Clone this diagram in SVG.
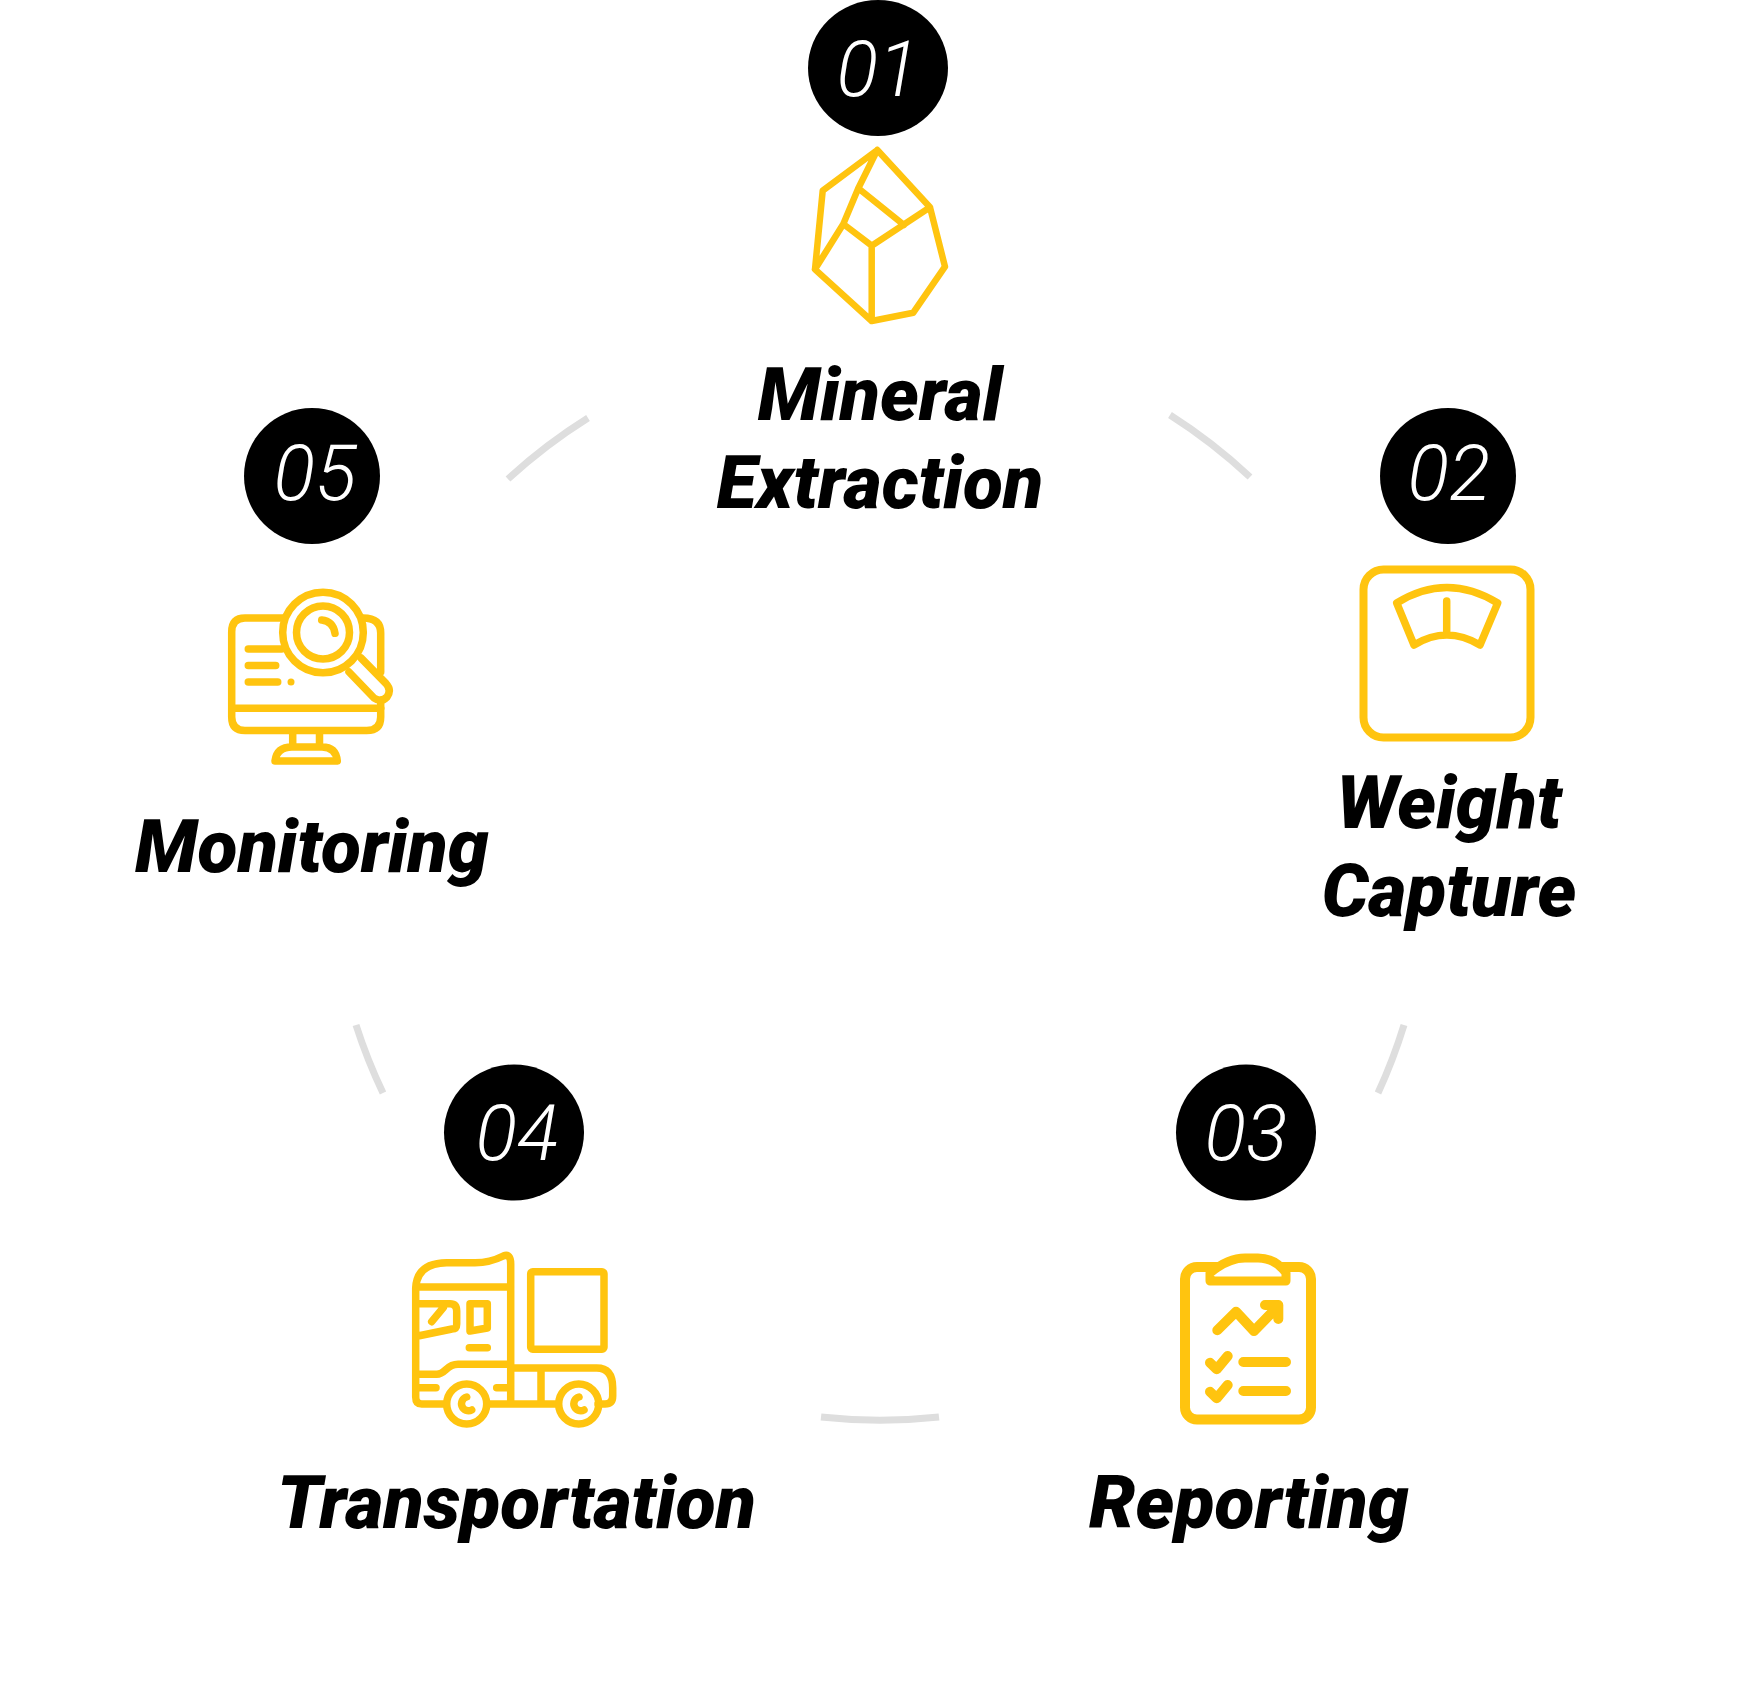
<svg xmlns="http://www.w3.org/2000/svg" width="1756" height="1684" viewBox="0 0 1756 1684">
<style>
.num{fill:#fff;font-family:Roboto,"Liberation Sans",sans-serif;font-style:italic;font-weight:300;font-size:77px;text-anchor:middle}
.lab{fill:#000;font-family:Roboto,"Liberation Sans",sans-serif;font-style:italic;font-weight:900;font-size:73.5px;text-anchor:middle}
.ic{fill:none;stroke:#ffc40f;stroke-linecap:round;stroke-linejoin:round;stroke-width:7.5}
.arc{fill:none;stroke:#dedede;stroke-width:7}
</style>
<rect width="1756" height="1684" fill="#fff"/>
<g id="connectors">
<path class="arc" d="M588 418A545 545 0 0 0 508 479"/>
<path class="arc" d="M1170 415A545 545 0 0 1 1250 477"/>
<path class="arc" d="M1404 1025A545 545 0 0 1 1378 1093"/>
<path class="arc" d="M356 1025A545 545 0 0 0 383 1093"/>
<path class="arc" d="M821 1417A545 545 0 0 0 939 1417"/>
</g>
<g id="node1">
<ellipse cx="878" cy="68" rx="70" ry="68"/>
<text class="num" x="878" y="96">01</text>
<path class="ic" style="stroke-width:6.5" d="M877.3 150L822.7 190.7L815 269.3L871.7 321L913.3 312.7L945 266.7L930 207.3ZM877.3 150L858.3 188.3L843.3 224L815 269.3M858.3 188.3L904 225M843.3 224L871.7 245.7L930 207.3M871.7 245.7V321"/>
<text class="lab" x="880" y="420">Mineral</text>
<text class="lab" x="880" y="508">Extraction</text>
</g>
<g id="node2">
<ellipse cx="1448" cy="476" rx="68" ry="68"/>
<text class="num" x="1449" y="500">02</text>
<rect class="ic" style="stroke-width:8" x="1363.5" y="569.5" width="167" height="168" rx="20"/>
<path class="ic" d="M1396.7 603Q1446.7 572 1497.7 603L1480 645Q1446.7 625 1414 645ZM1446.7 601V635"/>
<text class="lab" x="1449" y="828">Weight</text>
<text class="lab" x="1449" y="916">Capture</text>
</g>
<g id="node3">
<ellipse cx="1246" cy="1132.5" rx="70" ry="68"/>
<text class="num" x="1246" y="1160">03</text>
<rect class="ic" style="stroke-width:10" x="1185" y="1267" width="126" height="152.5" rx="12"/>
<path class="ic" style="stroke-width:9;fill:#fff" d="M1210 1281V1273Q1228 1258 1245 1258H1258Q1275 1258 1286 1273V1281Z"/>
<path class="ic" style="stroke-width:10" d="M1217.3 1330.3L1236 1311.7L1254 1331L1276.7 1307.7M1265 1305H1278.3V1319M1210 1362.7L1216.7 1369.3L1227.7 1356M1243.3 1362H1286M1210 1391.7L1216.7 1398.3L1227.7 1385M1243.3 1391H1286"/>
<text class="lab" x="1249" y="1528">Reporting</text>
</g>
<g id="node4">
<ellipse cx="514" cy="1132.5" rx="70" ry="68"/>
<text class="num" x="517" y="1160">04</text>
<path class="ic" d="M446 1404H421.7Q415.7 1404 415.7 1397V1288Q417 1263 446.7 1262.7H475Q490 1262.7 503.3 1256Q510.7 1253 510.7 1264V1404M488 1404H558M598 1404H605Q612.7 1404 612.7 1396V1388Q612.7 1368 596.7 1368H510.7M417 1287H510M415.7 1303.7H450Q456.7 1303.7 456.7 1311V1324Q456.7 1329 452 1329L418 1336M431.7 1321.7L443.3 1307.7M470 1303.7H487.3V1328L470 1331ZM469.3 1347.7H487.3M415.7 1374.3H436.7C446 1374 446 1364.3 458 1364.3H510M418.3 1387.7H436M496.7 1387.7H510M541 1368V1404"/>
<circle class="ic" cx="466.7" cy="1404" r="20"/>
<circle class="ic" cx="578.7" cy="1404" r="20"/>
<path class="ic" d="M466.7 1397A7 7 0 1 0 471.7 1410M579 1397A7 7 0 1 0 584 1410"/>
<rect class="ic" x="530.7" y="1271.7" width="73.3" height="77.6" rx="2"/>
<text class="lab" x="516.5" y="1528">Transportation</text>
</g>
<g id="node5">
<ellipse cx="312" cy="476" rx="68" ry="68"/>
<text class="num" x="315" y="500">05</text>
<path class="ic" d="M283 618H245Q231.7 618 231.7 632V717Q231.7 730.5 245 730.5H366.7Q380.7 730.5 380.7 717V700M363 618Q380.7 618 380.7 633V672M232 708.3H381M292.7 733V746M319.5 733V746M275 761Q276.7 747 292 747H322Q336 747 337.3 761ZM248.3 649H281.7M248.3 665.5H275.7M248.3 682H277.7M321.7 620Q333 621 335 633.3M361 658L386 683.5Q392 690 387 697Q381 703 374 698L349 672"/>
<circle cx="291" cy="682" r="3.5" fill="#ffc40f"/>
<circle class="ic" cx="323" cy="632.5" r="40.3"/>
<circle class="ic" cx="323" cy="632.5" r="26.5"/>
<text class="lab" x="312" y="872">Monitoring</text>
</g>
</svg>
